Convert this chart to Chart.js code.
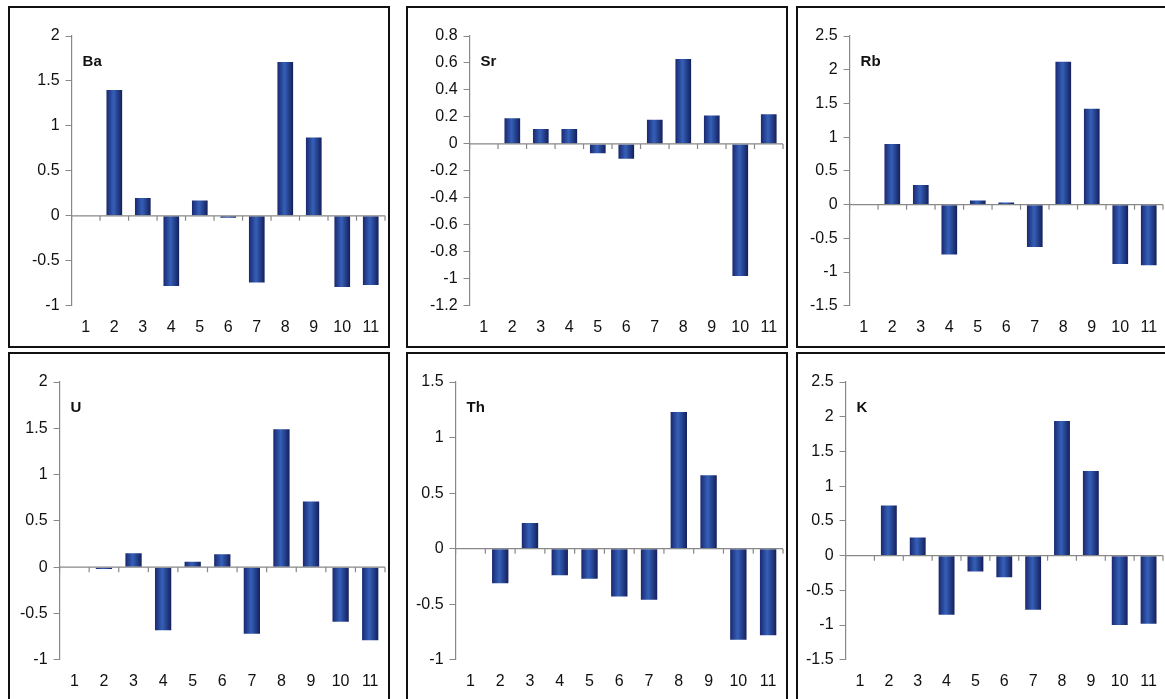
<!DOCTYPE html>
<html><head><meta charset="utf-8">
<script src="https://cdn.jsdelivr.net/npm/chart.js@4"></script>
<style>
body{margin:0;background:#fff;width:1165px;height:699px;overflow:hidden;position:relative;font-family:"Liberation Sans",Arial}
.p{position:absolute;border:2px solid #111;box-sizing:border-box;background:#fff}
canvas{display:block}
</style></head><body>
<div class="p" style="left:8px;top:6px;width:382px;height:342px"><canvas id="c0"></canvas></div>
<div class="p" style="left:406px;top:6px;width:382px;height:342px"><canvas id="c1"></canvas></div>
<div class="p" style="left:796px;top:6px;width:372px;height:342px"><canvas id="c2"></canvas></div>
<div class="p" style="left:8px;top:352px;width:382px;height:350px"><canvas id="c3"></canvas></div>
<div class="p" style="left:406px;top:352px;width:382px;height:350px"><canvas id="c4"></canvas></div>
<div class="p" style="left:796px;top:352px;width:372px;height:350px"><canvas id="c5"></canvas></div>
<script>
const categories=["1","2","3","4","5","6","7","8","9","10","11"];
const Ba=[0,1.4,0.2,-0.78,0.17,-0.02,-0.74,1.71,0.87,-0.79,-0.77];
const Sr=[0,0.19,0.11,0.11,-0.07,-0.11,0.18,0.63,0.21,-0.98,0.22];
const Rb=[0,0.9,0.29,-0.74,0.06,0.03,-0.63,2.12,1.42,-0.88,-0.9];
const U=[0,-0.02,0.15,-0.68,0.06,0.14,-0.72,1.49,0.71,-0.59,-0.79];
const Th=[0,-0.31,0.23,-0.24,-0.27,-0.43,-0.46,1.23,0.66,-0.82,-0.78];
const K=[0,0.72,0.26,-0.85,-0.23,-0.31,-0.78,1.94,1.22,-1.0,-0.98];
const panels=[
 {name:"Ba",data:Ba,min:-1,max:2,step:0.5},
 {name:"Sr",data:Sr,min:-1.2,max:0.8,step:0.2},
 {name:"Rb",data:Rb,min:-1.5,max:2.5,step:0.5},
 {name:"U",data:U,min:-1,max:2,step:0.5},
 {name:"Th",data:Th,min:-1,max:1.5,step:0.5},
 {name:"K",data:K,min:-1.5,max:2.5,step:0.5}
];
const padL=[16,16,6,4,2,2];
const deco={id:'deco',afterDatasetsDraw(ch,a,opts){
 const {ctx,chartArea:ca,scales:{x,y}}=ch;const y0=y.getPixelForValue(0);
 ctx.save();ctx.strokeStyle='#888';ctx.lineWidth=1.2;
 ctx.beginPath();ctx.moveTo(ca.left,y0);ctx.lineTo(ca.right,y0);
 for(let i=0;i<=categories.length;i++){const px=ca.left+(ca.right-ca.left)*i/categories.length;ctx.moveTo(px,y0);ctx.lineTo(px,y0+5);}
 ctx.stroke();
 ctx.fillStyle='#111';ctx.font='bold 15px "Liberation Sans"';ctx.textBaseline='middle';
 ctx.fillText(opts.name,ca.left+11,ca.top+26);ctx.restore();}};
panels.forEach((p,i)=>{
 new Chart(document.getElementById('c'+i),{type:'bar',
 data:{labels:categories,datasets:[{data:p.data,
  backgroundColor:(c)=>{const ch=c.chart;const xs=ch.scales&&ch.scales.x;if(!ch.chartArea||!xs)return '#22348c';
   const cx=xs.getPixelForValue(c.dataIndex);const w=(ch.chartArea.right-ch.chartArea.left)/categories.length*0.55;
   if(!isFinite(cx)||!isFinite(w))return '#22348c';
   const g=ch.ctx.createLinearGradient(cx-w/2,0,cx+w/2,0);
   g.addColorStop(0,'#1a2870');g.addColorStop(0.45,'#3560b8');g.addColorStop(1,'#141f5c');return g;},
  barPercentage:0.55,categoryPercentage:1}]},
 options:{responsive:true,maintainAspectRatio:false,animation:false,
  layout:{padding:{top:28,right:3,left:padL[i],bottom:5}},
  plugins:{legend:{display:false},tooltip:{enabled:false},deco:{name:p.name}},
  scales:{
   x:{grid:{display:false},border:{display:false},ticks:{color:'#111',font:{size:16,family:'"Liberation Sans"'},padding:4}},
   y:{min:p.min,max:p.max,ticks:{stepSize:p.step,color:'#111',font:{size:16,family:'"Liberation Sans"'},padding:6,
     callback:v=>String(Math.round(v*10)/10)},
    grid:{drawOnChartArea:false,tickLength:6,color:'#888'},border:{color:'#888',width:1.2}}}},
 plugins:[deco]});
});
</script></body></html>
